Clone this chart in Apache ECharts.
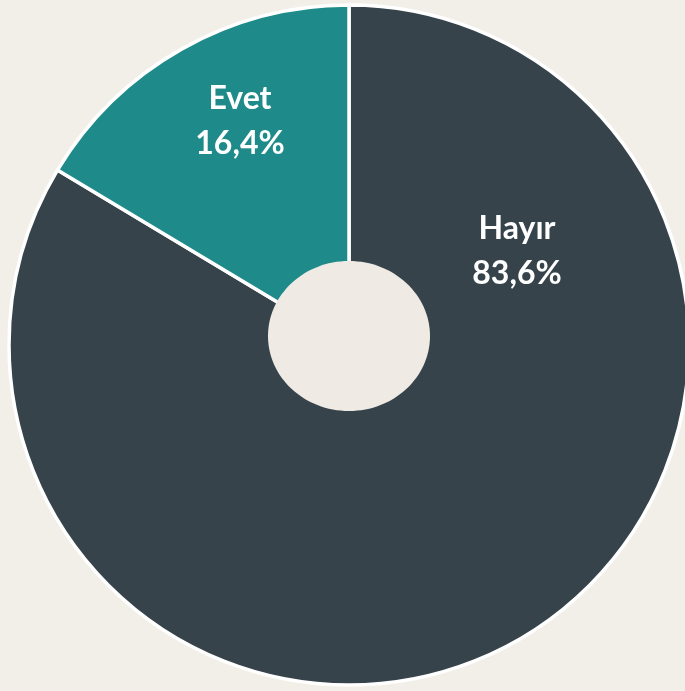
<!DOCTYPE html>
<html>
<head>
<meta charset="utf-8">
<script src="https://cdn.jsdelivr.net/npm/echarts@6/dist/echarts.min.js"></script>
<style>
html,body{margin:0;padding:0;background:#f2efe9;}
#c{width:685px;height:691px;}
</style>
</head>
<body>
<div id="c"></div>
<script>
var categories = ['Hayır', 'Evet'];
var values = [83.6, 16.4];
var valueLabels = ['83,6%', '16,4%'];
var colors = ['#36434b', '#1e8a8a'];

var labelPos = { 'Hayır': [517, 251], 'Evet': [240, 121] };

var chart = echarts.init(document.getElementById('c'));
chart.setOption({
  backgroundColor: '#f2efe9',
  animation: false,
  graphic: [{
    type: 'ellipse',
    shape: { cx: 349, cy: 336, rx: 81, ry: 75 },
    style: { fill: '#efebe4' },
    z: 100
  }],
  series: [{
    type: 'pie',
    center: [349, 345],
    radius: [0, 340],
    startAngle: 90,
    clockwise: true,
    data: categories.map(function (c, i) {
      return { name: c, value: values[i], itemStyle: { color: colors[i] } };
    }),
    itemStyle: { borderColor: '#ffffff', borderWidth: 3.5 },
    label: {
      show: true,
      position: 'inside',
      formatter: function (p) { return p.name + '\n' + valueLabels[p.dataIndex]; },
      color: '#ffffff',
      fontFamily: 'Lato',
      fontWeight: 'bold',
      fontSize: 32,
      lineHeight: 45,
      align: 'center'
    },
    labelLine: { show: false },
    labelLayout: function (p) {
      var pos = labelPos[categories[p.dataIndex]];
      return { x: pos[0], y: pos[1], align: 'center', verticalAlign: 'middle' };
    },
    emphasis: { disabled: true }
  }]
});
</script>
</body>
</html>
